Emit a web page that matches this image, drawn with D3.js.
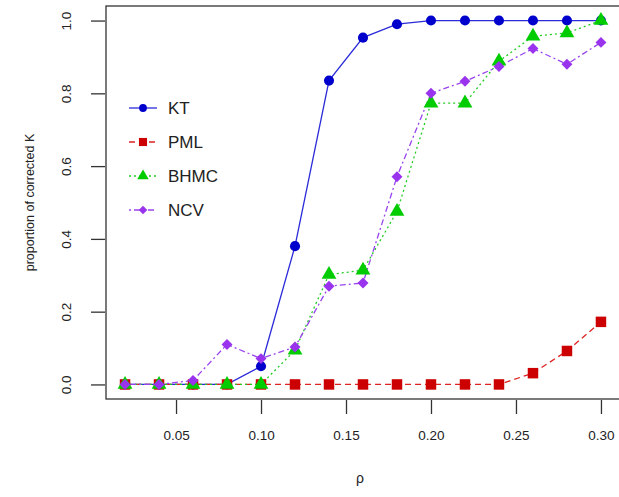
<!DOCTYPE html>
<html>
<head>
<meta charset="utf-8">
<script src="https://cdn.jsdelivr.net/npm/d3@7"></script>
<style>
  body { margin: 0; background: #fff; }
  svg { font-family: "Liberation Sans", Arial, sans-serif; }
</style>
</head>
<body>
<svg id="chart" width="619" height="497"></svg>
<script>
  // values
  const rho = [0.02, 0.04, 0.06, 0.08, 0.10, 0.12, 0.14, 0.16, 0.18, 0.20, 0.22, 0.24, 0.26, 0.28, 0.30];
  const kt   = [0, 0, 0, 0, 0.05, 0.38, 0.835, 0.953, 0.99, 1, 1, 1, 1, 1, 1];
  const pml  = [0, 0, 0, 0, 0, 0, 0, 0, 0, 0, 0, 0, 0.031, 0.092, 0.172];
  const bhmc = [0, 0, 0, 0, 0, 0.094, 0.302, 0.314, 0.475, 0.773, 0.773, 0.888, 0.957, 0.966, 1.0];
  const ncv  = [0, 0, 0.011, 0.11, 0.071, 0.103, 0.27, 0.279, 0.571, 0.80, 0.833, 0.874, 0.923, 0.88, 0.94];
  const xTicks = [0.05, 0.10, 0.15, 0.20, 0.25, 0.30];
  const yTicks = [0, 0.2, 0.4, 0.6, 0.8, 1.0];

  // pch 18 style diamond: a square turned 45 degrees
  const rotSquare = { draw(ctx, size) { const r = Math.sqrt(size / 2); ctx.moveTo(0, -r); ctx.lineTo(r, 0); ctx.lineTo(0, r); ctx.lineTo(-r, 0); ctx.closePath(); } };

  const series = [
    { name: "KT",   values: kt,   color: "#0000cc", line: "#2b2bd9", dash: null,      symbol: d3.symbolCircle,   size: 80 },
    { name: "PML",  values: pml,  color: "#cc0000", line: "#dd2222", dash: "6,4",     symbol: d3.symbolSquare,   size: 110 },
    { name: "BHMC", values: bhmc, color: "#00cc00", line: "#22cc22", dash: "2,3",     symbol: d3.symbolTriangle, size: 95 },
    { name: "NCV",  values: ncv,  color: "#9933ee", line: "#9944ee", dash: "2,3,6,3", symbol: rotSquare,         size: 60 }
  ];

  const svg = d3.select("#chart");
  const box = { left: 106, right: 620, top: 6, bottom: 399 };

  const padX = (0.30 - 0.02) * 0.04;
  const x = d3.scaleLinear().domain([0.02 - padX, 0.30 + padX]).range([box.left, box.right]);
  const y = d3.scaleLinear().domain([-0.04, 1.04]).range([box.bottom, box.top]);

  // plot box
  svg.append("rect")
    .attr("x", box.left).attr("y", box.top)
    .attr("width", box.right - box.left).attr("height", box.bottom - box.top)
    .attr("fill", "none").attr("stroke", "#333").attr("stroke-width", 1.3);

  // axes
  const xAxis = svg.append("g")
    .attr("transform", `translate(0,${box.bottom + 1})`)
    .call(d3.axisBottom(x).tickValues(xTicks).tickFormat(d3.format(".2f")).tickSize(14).tickPadding(16));
  xAxis.select(".domain").remove();
  xAxis.selectAll("line").attr("stroke", "#333").attr("stroke-width", 1.3);
  xAxis.selectAll("text").attr("font-size", 13.5).attr("fill", "#222");

  const yAxis = svg.append("g")
    .attr("transform", `translate(${box.left - 1},0)`)
    .call(d3.axisLeft(y).tickValues(yTicks).tickFormat(d3.format(".1f")).tickSize(14).tickPadding(0));
  yAxis.select(".domain").remove();
  yAxis.selectAll("line").attr("stroke", "#333").attr("stroke-width", 1.3);
  yAxis.selectAll("text")
    .attr("font-size", 13.5).attr("fill", "#222")
    .attr("x", null).attr("dy", null)
    .attr("text-anchor", "middle")
    .attr("transform", "translate(-39,0) rotate(-90)")
    .attr("y", 5);

  // axis titles
  svg.append("text")
    .attr("x", (box.left + box.right) / 2 - 3).attr("y", 483)
    .attr("text-anchor", "middle").attr("font-size", 14).attr("fill", "#222")
    .text("ρ");
  svg.append("text")
    .attr("transform", `translate(34,${(box.top + box.bottom) / 2}) rotate(-90)`)
    .attr("text-anchor", "middle").attr("font-size", 12.5).attr("fill", "#222")
    .text("proportion of corrected K");

  // lines and points
  const line = d3.line().x((d, i) => x(rho[i])).y(d => y(d));
  series.forEach(s => {
    svg.append("path")
      .attr("d", line(s.values))
      .attr("fill", "none")
      .attr("stroke", s.line)
      .attr("stroke-width", 1.3)
      .attr("stroke-dasharray", s.dash);
  });
  series.forEach(s => {
    svg.selectAll(null)
      .data(s.values)
      .enter()
      .append("path")
      .attr("d", d3.symbol().type(s.symbol).size(s.size))
      .attr("transform", (d, i) => `translate(${x(rho[i])},${y(d)})`)
      .attr("fill", s.color);
  });

  // legend
  const legend = svg.append("g").attr("transform", "translate(129,108)");
  series.forEach((s, i) => {
    const g = legend.append("g").attr("transform", `translate(0,${i * 34})`);
    g.append("line")
      .attr("x1", 0).attr("x2", 28).attr("y1", 0).attr("y2", 0)
      .attr("stroke", s.line).attr("stroke-width", 1.3)
      .attr("stroke-dasharray", s.dash);
    g.append("path")
      .attr("d", d3.symbol().type(s.symbol).size(s.size * 0.6))
      .attr("transform", "translate(14,0)")
      .attr("fill", s.color);
    g.append("text")
      .attr("x", 39).attr("y", 6)
      .attr("font-size", 17).attr("fill", "#222")
      .text(s.name);
  });
</script>
</body>
</html>
